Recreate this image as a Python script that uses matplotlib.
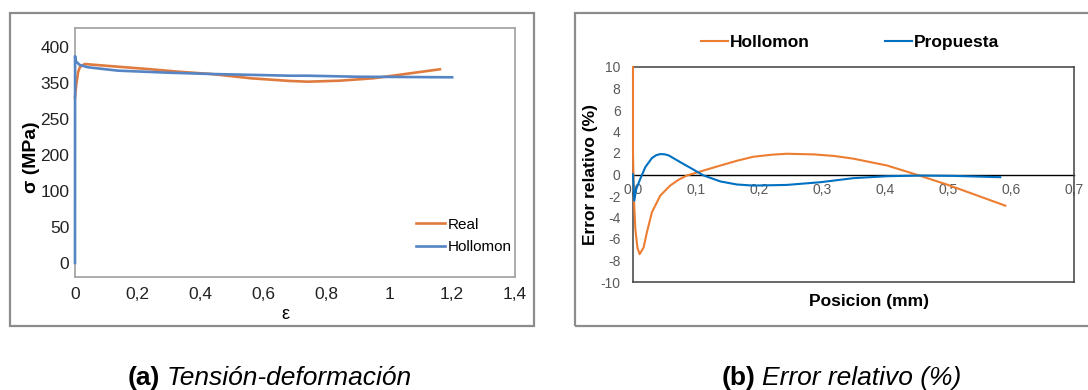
import numpy as np
import matplotlib
matplotlib.use("Agg")
import matplotlib.pyplot as plt
from matplotlib.patches import Rectangle

plt.rcParams['font.family'] = ['Liberation Sans', 'DejaVu Sans']
plt.rcParams['axes.unicode_minus'] = False

# (a) tension-deformacion
eps_real = [0.0, 0.004, 0.01, 0.016, 0.031, 0.137, 0.242, 0.328, 0.433, 0.56,
            0.684, 0.741, 0.843, 0.948, 1.034, 1.161]
sig_real = [310, 345, 365, 372, 376, 372.3, 368.7, 365.4, 362.2, 356.2,
            352.5, 351.5, 352.9, 356.2, 361.2, 368.7]
eps_holl = [0.0, 0.0003, 0.001, 0.015, 0.041, 0.137, 0.296, 0.433, 0.684,
            0.741, 0.897, 1.2]
sig_holl = [0, 387, 380.6, 374.7, 371.5, 366.8, 364, 362.2, 359.8, 359.8,
            358.4, 357.6]
sig_ticks = [0, 50, 100, 200, 250, 350, 400]
eps_ticks = [0, 0.2, 0.4, 0.6, 0.8, 1.0, 1.2, 1.4]
eps_labels = ['0', '0,2', '0,4', '0,6', '0,8', '1', '1,2', '1,4']

# (b) error relativo
pos_holl = [0.0, 0.0, 0.0015, 0.0037, 0.007, 0.0105, 0.0168, 0.022, 0.030,
            0.0433, 0.059, 0.072, 0.0857, 0.112, 0.139, 0.165, 0.191, 0.22,
            0.244, 0.287, 0.32, 0.350, 0.403, 0.451, 0.498, 0.535, 0.591]
err_holl = [10, 2, -2.24, -5.07, -6.8, -7.41, -6.8, -5.39, -3.52,
            -1.96, -1.03, -0.5, -0.09, 0.37, 0.84, 1.28, 1.65, 1.84,
            1.93, 1.87, 1.72, 1.47, 0.84, -0.03, -0.93, -1.71, -2.9]
pos_prop = [0.0, 0.002, 0.0052, 0.0116, 0.0195, 0.030, 0.037, 0.0433, 0.050,
            0.0566, 0.075, 0.0937, 0.112, 0.139, 0.165, 0.191, 0.244, 0.297,
            0.350, 0.403, 0.456, 0.509, 0.583]
err_prop = [0.0, -2.43, -1.34, -0.40, 0.68, 1.53, 1.80, 1.90, 1.88,
            1.78, 1.15, 0.53, -0.09, -0.65, -0.93, -1.03, -0.97, -0.72,
            -0.34, -0.16, -0.1, -0.13, -0.25]
pos_ticks = [0, 0.1, 0.2, 0.3, 0.4, 0.5, 0.6, 0.7]
pos_labels = ['0,0', '0,1', '0,2', '0,3', '0,4', '0,5', '0,6', '0,7']
err_ticks = list(range(-10, 11, 2))

fig = plt.figure(figsize=(10.88, 3.9), dpi=100)

# marcos grises
fig.patches.append(Rectangle((10/1088, 1-326/390), 524/1088, 313/390,
                             transform=fig.transFigure, fill=False,
                             ec='#8c8c8c', lw=1.6))
fig.patches.append(Rectangle((575/1088, 1-326/390), 520/1088, 313/390,
                             transform=fig.transFigure, fill=False,
                             ec='#8c8c8c', lw=1.6, clip_on=False))

# ---- grafico (a)
ax1 = fig.add_axes([75/1088, 1-277/390, 440/1088, 249/390])
# eje y con etiquetas equiespaciadas
lab_ext = [-50] + sig_ticks + [450]
pos_ext = list(range(-1, len(sig_ticks) + 1))
ax1.set_yscale('function', functions=(lambda v: np.interp(v, lab_ext, pos_ext),
                                      lambda p: np.interp(p, pos_ext, lab_ext)))
ax1.plot(eps_real, sig_real, color='#E07B40', lw=1.9, label='Real',
         zorder=3, clip_on=False)
ax1.plot(eps_holl, sig_holl, color='#5585C4', lw=1.9, label='Hollomon',
         zorder=3, clip_on=False)
ax1.set_xlim(0, 1.4)
ax1.set_ylim(-19.5, 426)
ax1.set_yticks(sig_ticks)
ax1.set_yticklabels([str(t) for t in sig_ticks])
ax1.set_xticks(eps_ticks)
ax1.set_xticklabels(eps_labels)
ax1.tick_params(length=0, labelsize=12.5, colors='#222222')
ax1.tick_params(axis='y', pad=4)
ax1.tick_params(axis='x', pad=7)
for s in ax1.spines.values():
    s.set_color('#a6a6a6')
    s.set_linewidth(1.3)
ax1.set_ylabel('σ (MPa)', fontsize=14, fontweight='bold')
ax1.yaxis.set_label_coords(-0.079, 0.482)
ax1.set_xlabel('ε', fontsize=13)
ax1.xaxis.set_label_coords(0.477, -0.116)
ax1.legend(loc='center', bbox_to_anchor=(0.884, 0.165), frameon=False,
           fontsize=11, handlelength=1.9, handletextpad=0.2, labelspacing=0.55)

# ---- grafico (b)
ax2 = fig.add_axes([633/1088, 1-282/390, 441/1088, 215/390])
ax2.plot(pos_holl, err_holl, color='#ED7D31', lw=1.5, label='Hollomon',
         zorder=3, clip_on=False)
ax2.plot(pos_prop, err_prop, color='#0070C0', lw=1.5, label='Propuesta',
         zorder=3, clip_on=False)
ax2.set_xlim(0, 0.7)
ax2.set_ylim(-10, 10)
ax2.set_yticks(err_ticks)
ax2.set_xticks(pos_ticks)
ax2.set_xticklabels([])
ax2.tick_params(length=0, labelsize=10, colors='#595959')
ax2.tick_params(axis='y', pad=9)
for s in ax2.spines.values():
    s.set_color('#404040')
    s.set_linewidth(1.1)
# eje x en y = 0
sec = ax2.secondary_xaxis(0.5)
sec.set_alignment('bottom')
sec.set_xticks(pos_ticks)
sec.set_xticklabels(pos_labels)
sec.tick_params(length=0, labelsize=10, colors='#595959', pad=6)
sec.spines['bottom'].set_color('black')
sec.spines['bottom'].set_linewidth(1.0)
ax2.set_ylabel('Error relativo (%)', fontsize=12.5, fontweight='bold')
ax2.yaxis.set_label_coords(-0.079, 0.498)
ax2.set_xlabel('Posicion (mm)', fontsize=12.5, fontweight='bold')
ax2.xaxis.set_label_coords(0.535, -0.056)
leg = ax2.legend(loc='center', bbox_to_anchor=(0.492, 1.116), ncol=2,
                 frameon=False, handlelength=1.6, handletextpad=0.1,
                 columnspacing=4.3, prop={'size': 12.5, 'weight': 'bold'})

# pies de figura
cy = 1 - 385/390
fig.text(128/1088, cy, '(a)', ha='left', va='baseline', fontsize=19,
         fontweight='bold')
fig.text(167/1088, cy, 'Tensión-deformación', ha='left', va='baseline',
         fontsize=19, style='italic')
fig.text(722/1088, cy, '(b)', ha='left', va='baseline', fontsize=19,
         fontweight='bold')
fig.text(762/1088, cy, 'Error relativo (%)', ha='left', va='baseline',
         fontsize=19, style='italic')

fig.savefig('out.png', dpi=100)
